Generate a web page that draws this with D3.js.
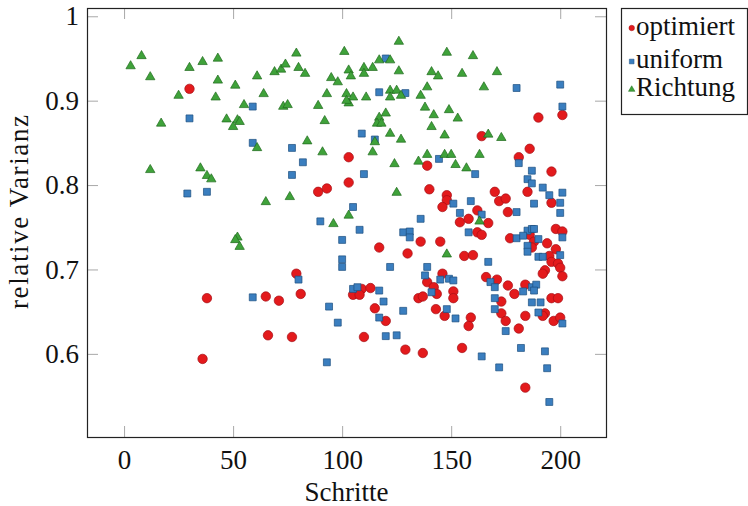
<!DOCTYPE html>
<html>
<head>
<meta charset="utf-8">
<script src="https://cdn.jsdelivr.net/npm/d3@7"></script>
<style>
  body { margin: 0; background: #fff; }
</style>
</head>
<body>
<script>
// values: [Schritte, relative Varianz]
const optimiert = [
  [30, 0.914], [38, 0.666], [65, 0.668], [66, 0.622], [36, 0.594], [103, 0.833], [103, 0.803],
  [89, 0.792], [93, 0.796], [139, 0.823], [140, 0.795], [117, 0.726], [136, 0.733], [145, 0.733],
  [130, 0.719], [79, 0.695], [139, 0.685], [142, 0.679], [143.4, 0.671], [71, 0.663], [81, 0.671],
  [109, 0.677], [113, 0.678], [105, 0.670], [108, 0.670], [135, 0.666], [137, 0.668], [115, 0.654],
  [143, 0.653], [120, 0.639], [77, 0.620], [110, 0.620], [129, 0.605], [137, 0.601], [190, 0.880],
  [201, 0.883], [164, 0.858], [186, 0.843], [181, 0.833], [196, 0.816], [148, 0.788], [148, 0.782],
  [146, 0.774], [170, 0.792], [172, 0.781], [175, 0.784], [185, 0.792], [196, 0.779], [162, 0.770],
  [154, 0.756], [158, 0.760], [167, 0.755], [176, 0.768], [162, 0.744], [164, 0.741], [177, 0.737],
  [186, 0.741], [198, 0.748], [201, 0.745], [188, 0.733], [194, 0.731], [187, 0.726], [198, 0.724],
  [156, 0.716], [160, 0.717], [195, 0.716], [196, 0.709], [199, 0.707], [200, 0.702], [193, 0.699],
  [192, 0.695], [201, 0.692], [166, 0.691], [171, 0.688], [176, 0.681], [184, 0.682], [146, 0.695],
  [151, 0.674], [151, 0.666], [179, 0.671], [196, 0.666], [199, 0.666], [173, 0.662], [147, 0.645],
  [159, 0.643], [158, 0.633], [173, 0.648], [175, 0.639], [184, 0.645], [193, 0.648], [192, 0.645],
  [197, 0.639], [200, 0.643], [181, 0.630], [155, 0.607], [184, 0.560]
];

const uniform = [
  [30, 0.879], [59, 0.893], [59, 0.850], [29, 0.790], [38, 0.792], [59, 0.667], [120, 0.950],
  [117, 0.910], [129, 0.909], [109, 0.861], [115, 0.854], [77, 0.844], [82, 0.827], [77, 0.812],
  [110, 0.813], [144.4, 0.831], [105, 0.774], [90, 0.757], [108, 0.747], [100, 0.735], [136, 0.760],
  [128, 0.744], [131, 0.745], [131, 0.738], [100, 0.712], [100, 0.703], [122, 0.703], [80, 0.688],
  [139, 0.703], [138, 0.693], [141, 0.673], [105, 0.677], [107, 0.679], [117, 0.675], [119, 0.662],
  [94, 0.656], [128, 0.651], [98, 0.637], [117, 0.643], [120, 0.621], [125, 0.622], [93, 0.590],
  [180, 0.915], [200, 0.919], [201, 0.893], [161, 0.813], [181, 0.826], [187, 0.817], [185, 0.807],
  [187, 0.802], [192, 0.797], [195, 0.788], [201, 0.791], [188, 0.778], [200, 0.779], [200, 0.767],
  [151, 0.778], [159, 0.781], [154, 0.767], [164, 0.765], [180, 0.768], [158, 0.744], [185, 0.746],
  [187, 0.748], [188, 0.748], [180, 0.737], [183, 0.740], [190, 0.736], [201, 0.738], [185, 0.728],
  [185, 0.721], [167, 0.709], [190, 0.715], [192, 0.715], [200, 0.717], [145, 0.688], [149, 0.689],
  [151, 0.687], [168, 0.685], [170, 0.679], [183, 0.674], [187, 0.679], [189, 0.682], [188, 0.675],
  [170, 0.666], [187, 0.661], [191, 0.661], [148, 0.653], [152, 0.642], [170, 0.653], [175, 0.627],
  [190, 0.649], [201, 0.636], [164, 0.597], [182, 0.607], [193, 0.603], [172, 0.584], [194, 0.583],
  [195, 0.543]
];

const richtung = [
  [8, 0.953], [3, 0.941], [12, 0.928], [30, 0.939], [36, 0.946], [43, 0.950], [43, 0.924],
  [51, 0.918], [61, 0.929], [64, 0.908], [25, 0.906], [42, 0.904], [55, 0.895], [17, 0.873],
  [47, 0.878], [52, 0.877], [53, 0.875], [50, 0.869], [61, 0.844], [12, 0.818], [35, 0.820],
  [38, 0.811], [40, 0.807], [65, 0.780], [52, 0.738], [51, 0.735], [53, 0.727], [126, 0.970],
  [79, 0.956], [101, 0.958], [69, 0.934], [72, 0.937], [74, 0.943], [80, 0.939], [83, 0.932],
  [95, 0.927], [98, 0.922], [103, 0.936], [104, 0.929], [110, 0.939], [110, 0.932], [114, 0.939],
  [117, 0.948], [122, 0.948], [126, 0.935], [141, 0.934], [144, 0.929], [93, 0.908], [102, 0.908],
  [105, 0.904], [111, 0.904], [103, 0.897], [102, 0.900], [73, 0.893], [75, 0.895], [89, 0.894],
  [122, 0.912], [125, 0.912], [122, 0.904], [127, 0.906], [136, 0.906], [139, 0.916], [138, 0.892],
  [142, 0.883], [120, 0.885], [117, 0.880], [116, 0.873], [118, 0.873], [141, 0.869], [92, 0.876],
  [84, 0.852], [122, 0.861], [127, 0.854], [115, 0.851], [91, 0.839], [114, 0.839], [139, 0.836],
  [148, 0.957], [160, 0.953], [155, 0.932], [171, 0.934], [165, 0.916], [149, 0.889], [153, 0.879],
  [147, 0.859], [167, 0.860], [173, 0.856], [147, 0.836], [150, 0.836], [163, 0.836], [152, 0.824],
  [157, 0.820], [163, 0.757], [148, 0.718], [124, 0.825], [135, 0.828], [125, 0.791], [76, 0.786],
  [103, 0.764], [96, 0.754]
];

const seriesNames = ["optimiert", "uniform", "Richtung"];
const xTicks = [0, 50, 100, 150, 200];
const yTicks = [0.6, 0.7, 0.8, 0.9, 1];

const FONT = "Liberation Serif, DejaVu Serif, serif";
const FS = 27;
const width = 748, height = 506;
const margin = { left: 87, top: 8, right: 142, bottom: 69 };
const plotW = width - margin.left - margin.right;
const plotH = height - margin.top - margin.bottom;

const svg = d3.select("body").append("svg")
  .attr("width", width)
  .attr("height", height)
  .attr("font-family", FONT);

const x = d3.scaleLinear().domain([-17, 221]).range([0, plotW]);
const y = d3.scaleLinear().domain([0.5015, 1.0098]).range([plotH, 0]);

const g = svg.append("g")
  .attr("transform", `translate(${margin.left},${margin.top})`);

// ticks point inwards on all four sides, labels only bottom/left
const fmt = d => (d === 1 ? "1" : d3.format(".1f")(d));

const axB = g.append("g").attr("transform", `translate(0,${plotH})`)
  .call(d3.axisBottom(x).tickValues(xTicks).tickSize(-11).tickPadding(13));
const axT = g.append("g")
  .call(d3.axisTop(x).tickValues(xTicks).tickSize(-11).tickFormat(""));
const axL = g.append("g")
  .call(d3.axisLeft(y).tickValues(yTicks).tickSize(-11).tickPadding(8).tickFormat(fmt));
const axR = g.append("g").attr("transform", `translate(${plotW},0)`)
  .call(d3.axisRight(y).tickValues(yTicks).tickSize(-11).tickFormat(""));

[axB, axT, axL, axR].forEach(a => {
  a.attr("font-family", FONT).attr("font-size", FS);
  a.select(".domain").remove();
  a.selectAll(".tick line").attr("stroke", "#a8a8a8").attr("stroke-width", 1);
  a.selectAll(".tick text").attr("fill", "#111");
});

g.append("rect")
  .attr("x", 0.5).attr("y", 0.5)
  .attr("width", plotW).attr("height", plotH)
  .attr("fill", "none")
  .attr("stroke", "#222")
  .attr("stroke-width", 1.2);

const styles = [
  { data: optimiert, fill: "#e31a1c", stroke: "#a50f15", shape: d3.symbolCircle, size: 70, legendSize: 24 },
  { data: uniform, fill: "#3a7ebf", stroke: "#1c4f80", shape: d3.symbolSquare, size: 48, legendSize: 22 },
  { data: richtung, fill: "#3fa23a", stroke: "#1f6a1c", shape: d3.symbolTriangle, size: 38, legendSize: 18 }
];

styles.forEach(s => {
  g.append("g").selectAll("path")
    .data(s.data)
    .join("path")
    .attr("transform", d => `translate(${x(d[0])},${y(d[1])})`)
    .attr("d", d3.symbol(s.shape, s.size))
    .attr("fill", s.fill)
    .attr("stroke", s.stroke)
    .attr("stroke-width", 0.7);
});

// axis titles
svg.append("text")
  .attr("x", margin.left + plotW / 2)
  .attr("y", 501)
  .attr("text-anchor", "middle")
  .attr("fill", "#111")
  .attr("font-size", FS)
  .text("Schritte");

svg.append("text")
  .attr("transform", `translate(28,212) rotate(-90)`)
  .attr("text-anchor", "middle")
  .attr("fill", "#111")
  .attr("font-size", FS)
  .attr("textLength", 194)
  .attr("lengthAdjust", "spacing")
  .text("relative Varianz");

// legend
const lg = svg.append("g").attr("transform", "translate(621,8)");
lg.append("rect")
  .attr("x", 0.5).attr("y", 0.5)
  .attr("width", 126).attr("height", 106)
  .attr("fill", "#fff")
  .attr("stroke", "#222")
  .attr("stroke-width", 1.2);

const rowY = [20, 53.5, 81.5];
styles.forEach((s, i) => {
  lg.append("path")
    .attr("transform", `translate(10.7,${rowY[i]})`)
    .attr("d", d3.symbol(s.shape, s.legendSize))
    .attr("fill", s.fill)
    .attr("stroke", s.stroke)
    .attr("stroke-width", 0.5);
  lg.append("text")
    .attr("x", 15)
    .attr("y", rowY[i] + 6.5)
    .attr("fill", "#111")
    .attr("font-size", FS)
    .text(seriesNames[i]);
});
</script>
</body>
</html>
